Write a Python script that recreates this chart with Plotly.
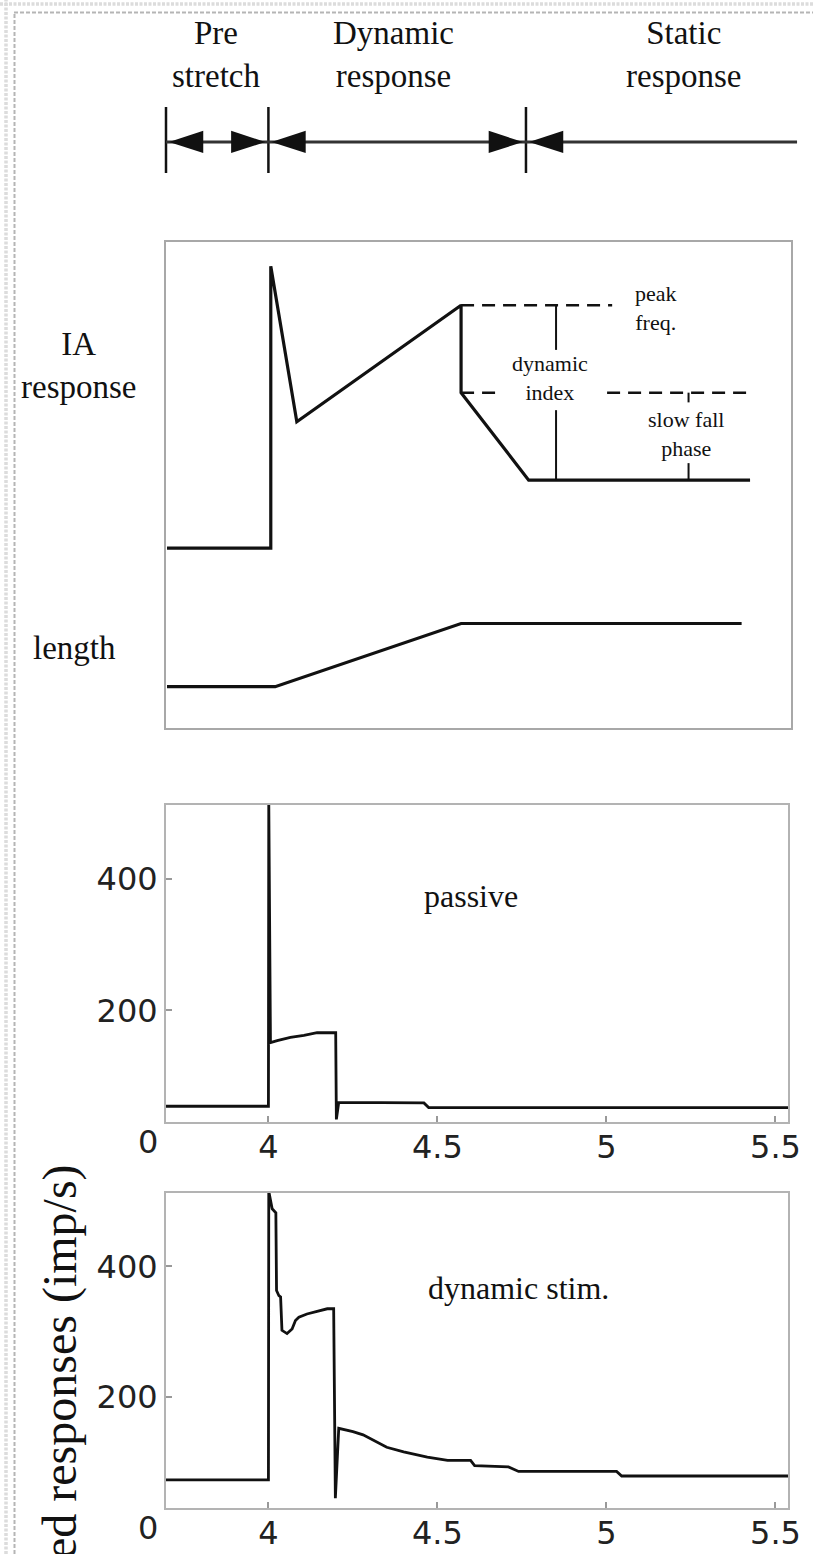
import plotly.graph_objects as go

# ---------------- data ----------------
T_MIN, T_MAX = 3.697, 5.537          # time axis of the simulated panels (s)
Y_MIN, Y_MAX = 30, 513               # rate axis (imp/s)

# top phase bar
phase_bounds = [3.697, 4.0, 4.762]
phase_line_end = 5.564
phase_labels = ["Pre<br>stretch", "Dynamic<br>response", "Static<br>response"]
phase_label_t = [3.845, 4.369, 5.227]

# schematic (arbitrary units 0-100)
ia_t = [3.70, 4.007, 4.007, 4.084, 4.570, 4.570, 4.770, 5.425]
ia_v = [37, 37, 95, 63, 87, 69, 51, 51]
len_t = [3.70, 4.02, 4.57, 5.40]
len_v = [8.5, 8.5, 21.5, 21.5]
peak_level, static_level, fall_level = 87, 69, 51
peak_dash_t = [4.57, 5.017]
static_dash_t = [[4.57, 4.693], [5.002, 5.433]]
dyn_index_t = 4.851
dyn_index_gap = [77.8, 65.4]
slow_fall_t = 5.243
slow_fall_gap = [67, 54.5]

# passive response (imp/s)
pas_t = [3.697, 4.000, 4.001, 4.006, 4.026, 4.065, 4.105, 4.134, 4.144, 4.199, 4.201, 4.208,
         4.300, 4.460, 4.474, 5.537]
pas_v = [54, 54, 520, 151, 154, 159, 162, 165, 166, 166, 34, 60,
         60, 59, 52, 52]

# dynamic stimulation response (imp/s)
dyn_t = [3.697, 4.000, 4.001, 4.011, 4.022, 4.024, 4.031, 4.036, 4.040, 4.055, 4.070,
         4.080, 4.090, 4.114, 4.174, 4.193, 4.198, 4.208, 4.250, 4.280, 4.350, 4.400,
         4.470, 4.530, 4.598, 4.610, 4.710, 4.740, 5.030, 5.045, 5.537]
dyn_v = [73, 73, 515, 488, 482, 363, 355, 353, 302, 297, 304,
         317, 322, 327, 335, 335, 45, 152, 147, 142, 123, 116,
         108, 103, 103, 95, 93, 86, 86, 79, 79]

x_ticks = [4, 4.5, 5, 5.5]
x_ticktext = ["4", "4.5", "5", "5.5"]
y_ticks = [200, 400]

# ---------------- figure ----------------
W, H = 813, 1554
def py(px):
    return 1 - px / H
def pxx(px):
    return px / W

SERIF = "Liberation Serif"
SANS = "DejaVu Sans"
BLACK = "#111111"
AXC = "#b3b3b3"

fig = go.Figure()

# top phase bar (x4/y4)
bar_x, bar_y = [], []
for b in phase_bounds:
    bar_x += [b, b, None]
    bar_y += [0, 1, None]
fig.add_trace(go.Scatter(x=bar_x, y=bar_y, mode="lines", line=dict(color=BLACK, width=2.5),
                         xaxis="x4", yaxis="y4", showlegend=False, hoverinfo="skip"))
fig.add_trace(go.Scatter(x=[phase_bounds[0], phase_line_end], y=[0.47, 0.47], mode="lines",
                         line=dict(color="#333333", width=3), xaxis="x4", yaxis="y4",
                         showlegend=False, hoverinfo="skip"))
gap = 0.009
head_x = [phase_bounds[0] + gap, phase_bounds[1] - gap, phase_bounds[1] + gap,
          phase_bounds[2] - gap, phase_bounds[2] + gap]
head_ang = [-90, 90, -90, 90, -90]
fig.add_trace(go.Scatter(x=head_x, y=[0.47] * len(head_x), mode="markers",
                         marker=dict(symbol="arrow", size=36, angle=head_ang, color=BLACK,
                                     line=dict(width=0)),
                         xaxis="x4", yaxis="y4", showlegend=False, hoverinfo="skip", cliponaxis=False))

# schematic (x/y)
fig.add_trace(go.Scatter(x=ia_t, y=ia_v, mode="lines", line=dict(color=BLACK, width=3.2),
                         showlegend=False, hoverinfo="skip"))
fig.add_trace(go.Scatter(x=len_t, y=len_v, mode="lines", line=dict(color=BLACK, width=3.2),
                         showlegend=False, hoverinfo="skip"))
dx, dy = [], []
dx += peak_dash_t + [None]
dy += [peak_level, peak_level, None]
for seg in static_dash_t:
    dx += seg + [None]
    dy += [static_level, static_level, None]
fig.add_trace(go.Scatter(x=dx, y=dy, mode="lines",
                         line=dict(color=BLACK, width=2.5, dash="13px,8px"),
                         showlegend=False, hoverinfo="skip"))
sx = [dyn_index_t, dyn_index_t, None, dyn_index_t, dyn_index_t, None,
      slow_fall_t, slow_fall_t, None, slow_fall_t, slow_fall_t]
sy = [peak_level, dyn_index_gap[0], None, dyn_index_gap[1], fall_level, None,
      static_level, slow_fall_gap[0], None, slow_fall_gap[1], fall_level]
fig.add_trace(go.Scatter(x=sx, y=sy, mode="lines", line=dict(color=BLACK, width=2),
                         showlegend=False, hoverinfo="skip"))

# passive (x2/y2)
fig.add_trace(go.Scatter(x=pas_t, y=pas_v, mode="lines", line=dict(color=BLACK, width=2.8),
                         xaxis="x2", yaxis="y2", showlegend=False, hoverinfo="skip"))
# dynamic stim (x3/y3)
fig.add_trace(go.Scatter(x=dyn_t, y=dyn_v, mode="lines", line=dict(color=BLACK, width=2.8),
                         xaxis="x3", yaxis="y3", showlegend=False, hoverinfo="skip"))

tickfont = dict(family=SANS, size=32, color="#222222")
data_x = dict(range=[T_MIN, T_MAX], domain=[pxx(166), pxx(788)], showline=True, mirror=True,
              linecolor=AXC, linewidth=2, ticks="inside", ticklen=6, tickwidth=1.5,
              tickcolor="#999999", tickvals=x_ticks, ticktext=x_ticktext, tickfont=tickfont,
              showgrid=False, zeroline=False, ticklabelstandoff=-4, automargin=False)
data_y = dict(range=[Y_MIN, Y_MAX], showline=True, mirror=True, linecolor=AXC, linewidth=2,
              ticks="inside", ticklen=6, tickwidth=1.5, tickcolor="#999999", tickvals=y_ticks,
              tickfont=tickfont, showgrid=False, zeroline=False, ticklabelstandoff=0,
              automargin=False)

fig.update_layout(
    width=W, height=H, margin=dict(l=0, r=0, t=0, b=0, autoexpand=False),
    paper_bgcolor="white", plot_bgcolor="white",
    xaxis=dict(range=[T_MIN, T_MIN + (791 - 166) / 338], domain=[pxx(166), pxx(791)],
               showline=True, mirror=True, linecolor="#a8a8a8", linewidth=2,
               showticklabels=False, ticks="", showgrid=False, zeroline=False, automargin=False),
    yaxis=dict(range=[0, 100], domain=[py(728), py(242)], showline=True, mirror=True,
               linecolor="#a8a8a8", linewidth=2, showticklabels=False, ticks="",
               showgrid=False, zeroline=False, automargin=False),
    xaxis2=dict(data_x, anchor="y2"),
    yaxis2=dict(data_y, domain=[py(1122), py(805)], anchor="x2"),
    xaxis3=dict(data_x, anchor="y3"),
    yaxis3=dict(data_y, domain=[py(1508), py(1192.5)], anchor="x3"),
    xaxis4=dict(range=[T_MIN - 16 / 338, T_MIN + 647 / 338], domain=[pxx(150), 1.0],
                visible=False, anchor="y4", automargin=False),
    yaxis4=dict(range=[0, 1], domain=[py(173), py(107)], visible=False, anchor="x4",
                automargin=False),
)

C = dict(xanchor="center", yanchor="middle", showarrow=False)
ann = []
big = dict(family=SERIF, size=33, color=BLACK)
for lab, t in zip(phase_labels, phase_label_t):
    ann.append(dict(C, x=t, y=py(54), xref="x4", yref="paper", text=lab, font=big, align="center"))
ann.append(dict(C, x=pxx(78), y=py(365), xref="paper", yref="paper", text="IA<br>response", font=big))
ann.append(dict(C, x=pxx(74), y=py(648), xref="paper", yref="paper", text="length", font=big))
small = dict(family=SERIF, size=22, color=BLACK)
ann.append(dict(C, x=5.147, y=86.5, xref="x", yref="y", text="peak<br>freq.", font=small))
ann.append(dict(C, x=dyn_index_t - 0.018, y=72, xref="x", yref="y", text="dynamic<br>index", font=small))
ann.append(dict(C, x=slow_fall_t - 0.008, y=60.5, xref="x", yref="y", text="slow fall<br>phase", font=small))
mid = dict(family=SERIF, size=32, color=BLACK)
ann.append(dict(C, x=4.599, y=374, xref="x2", yref="y2", text="passive", font=mid))
ann.append(dict(C, x=4.741, y=367, xref="x3", yref="y3", text="dynamic stim.", font=mid))
for yr in ["y2 domain", "y3 domain"]:
    ann.append(dict(x=pxx(160), y=(0 - Y_MIN) / (Y_MAX - Y_MIN), xref="paper", yref=yr,
                    text="0", showarrow=False, xanchor="right", yanchor="middle", font=tickfont))
ann.append(dict(C, x=pxx(60), y=py(1362), xref="paper", yref="paper", text="ed responses (imp/s)",
                textangle=-90, font=dict(family=SERIF, size=48, color=BLACK)))
fig.update_layout(annotations=ann)

# dashed page frame
shapes = [
    dict(type="line", xref="paper", yref="paper", x0=0, x1=1, y0=py(4), y1=py(4),
         line=dict(color="#dcdcdc", width=3.5, dash="3px,1.5px")),
    dict(type="line", xref="paper", yref="paper", x0=pxx(6), x1=pxx(6), y0=0, y1=1,
         line=dict(color="#dcdcdc", width=3.5, dash="3px,1.5px")),
    dict(type="line", xref="paper", yref="paper", x0=pxx(14), x1=1, y0=py(12.5), y1=py(12.5),
         line=dict(color="#b5b5b5", width=2, dash="4px,2px")),
    dict(type="line", xref="paper", yref="paper", x0=pxx(14.5), x1=pxx(14.5), y0=0, y1=py(12.5),
         line=dict(color="#b5b5b5", width=2, dash="4px,2px")),
]
fig.update_layout(shapes=shapes)

fig.write_html("out.html", config={"displayModeBar": False},
               post_script="document.body.style.margin='0';document.body.style.overflow='hidden';")
